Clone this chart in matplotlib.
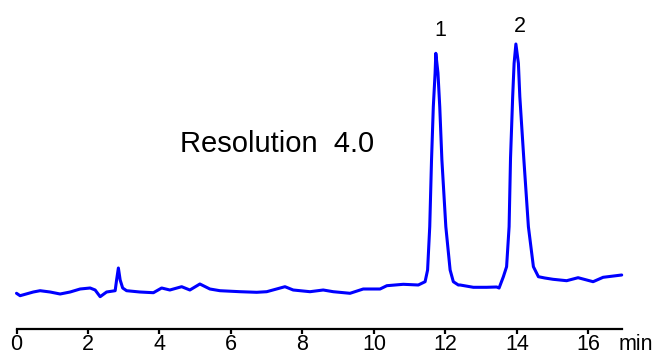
import matplotlib
matplotlib.use("Agg")
import matplotlib.pyplot as plt

plt.rcParams['font.family'] = ['Liberation Sans', 'DejaVu Sans']

# Retention time (min) and detector signal (arbitrary units)
time_min = [0.00, 0.10, 0.47, 0.66, 0.94, 1.22, 1.50, 1.78, 2.06, 2.20, 2.34, 2.52,
            2.76, 2.80, 2.85, 2.90, 2.97, 3.08, 3.45, 3.83, 4.06, 4.29, 4.62, 4.85,
            5.13, 5.41, 5.69, 6.25, 6.72, 7.00, 7.51, 7.74, 8.21, 8.58, 8.86, 9.33,
            9.70, 10.17, 10.36, 10.82, 11.24, 11.43, 11.50, 11.56, 11.61, 11.66, 11.71,
            11.73, 11.79, 11.84, 11.90, 12.01, 12.13, 12.22, 12.36, 12.41, 12.78, 13.15,
            13.43, 13.50, 13.62, 13.71, 13.78, 13.82, 13.88, 13.92, 13.97, 14.04, 14.08,
            14.19, 14.32, 14.46, 14.60, 14.78, 15.01, 15.39, 15.71, 16.13, 16.41, 16.93]
signal = [-0.3, -2.7, 1.0, 2.3, 1.0, -1.0, 1.0, 4.0, 5.0, 3.0, -3.7, 1.0,
          2.3, 13.0, 25.0, 13.0, 5.0, 2.3, 1.0, 0.3, 5.0, 3.0, 6.3, 3.0,
          9.0, 4.0, 2.3, 1.3, 0.7, 1.3, 6.3, 3.0, 1.3, 3.0, 1.3, -0.3,
          4.0, 4.0, 7.3, 8.7, 8.0, 11.3, 23.0, 66.3, 133.0, 186.3, 220.0,
          239.7, 220.0, 186.3, 133.0, 66.3, 23.0, 11.3, 8.0, 8.0, 5.7, 5.7,
          6.0, 5.0, 16.3, 26.3, 66.3, 135.0, 196.3, 229.7, 249.0, 229.7, 196.3,
          135.0, 66.3, 26.3, 16.3, 15.0, 13.7, 12.3, 15.3, 11.3, 15.7, 18.0]

xticks = [0, 2, 4, 6, 8, 10, 12, 14, 16]
peak_labels = ['1', '2']
peak_label_pos = [(11.85, 257), (14.08, 261)]
annotation = 'Resolution  4.0'

fig = plt.figure(figsize=(6.58, 3.57), dpi=100)
W, H = 658, 357
x0, x1 = 16.5, 621.7
ytop, ybot = 20, 329
ax = fig.add_axes([x0 / W, 1 - ybot / H, (x1 - x0) / W, (ybot - ytop) / H])

ax.plot(time_min, signal, color='#0000ff', lw=2.2, clip_on=False,
        solid_joinstyle='round', solid_capstyle='round')

ax.set_xlim(0, 16.93)
ax.set_ylim(-36, 273)

for s in ['top', 'right', 'left']:
    ax.spines[s].set_visible(False)
ax.spines['bottom'].set_linewidth(1.6)
ax.set_yticks([])
ax.set_xticks(xticks)
ax.set_xticklabels([str(t) for t in xticks])
ax.tick_params(axis='x', direction='out', length=3.5, width=1.6, pad=0, labelsize=15.5)

for lab, (tx, ty) in zip(peak_labels, peak_label_pos):
    ax.text(tx, ty, lab, ha='center', va='baseline', fontsize=15.5)

ax.text(4.57, 141, annotation, ha='left', va='baseline', fontsize=21)

ax.text(16.83, -21 / (ybot - ytop), 'min', ha='left', va='baseline', fontsize=15.5,
        transform=ax.get_xaxis_transform())

fig.savefig('out.png', dpi=100)
